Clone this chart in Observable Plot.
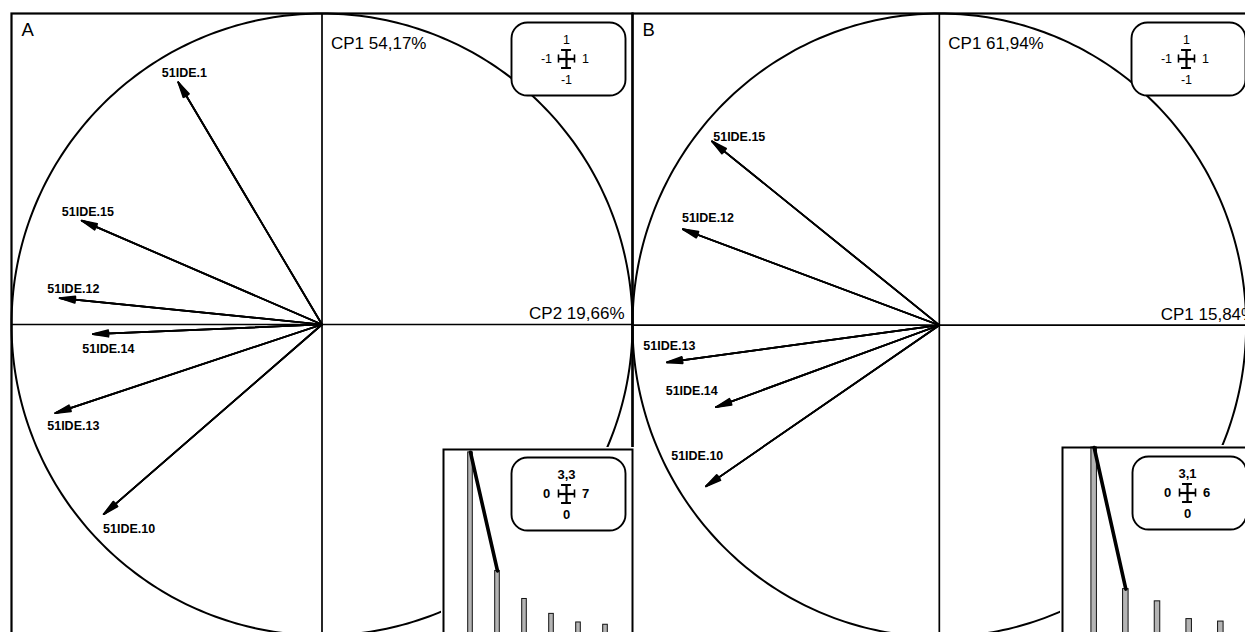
<!DOCTYPE html>
<html><head><meta charset="utf-8">
<script src="https://cdn.jsdelivr.net/npm/d3@7"></script>
<script src="https://cdn.jsdelivr.net/npm/@observablehq/plot@0.6"></script>
<style>
body{margin:0;background:#fff;}
#root{position:relative;width:1245px;height:632px;overflow:hidden;background:#fff;}
#root svg{position:absolute;max-width:none;overflow:visible;}
</style></head><body><div id="root"></div>
<script>
// ---------- data ----------
const panelLetters = ["A", "B"];
const axisTitlesA = ["CP1 54,17%", "CP2 19,66%"];
const axisTitlesB = ["CP1 61,94%", "CP1 15,84%"];

const varsA = ["51IDE.1", "51IDE.15", "51IDE.12", "51IDE.14", "51IDE.13", "51IDE.10"];
const corrXA = [-0.463, -0.774, -0.845, -0.738, -0.859, -0.703];
const corrYA = [0.779, 0.334, 0.085, -0.031, -0.285, -0.610];
const labXA = [-0.443, -0.754, -0.801, -0.688, -0.801, -0.621];
const labYA = [0.808, 0.361, 0.113, -0.079, -0.327, -0.658];

const varsB = ["51IDE.15", "51IDE.12", "51IDE.13", "51IDE.14", "51IDE.10"];
const corrXB = [-0.741, -0.836, -0.888, -0.728, -0.761];
const corrYB = [0.590, 0.308, -0.119, -0.263, -0.517];
const labXB = [-0.652, -0.754, -0.880, -0.807, -0.789];
const labYB = [0.603, 0.343, -0.067, -0.212, -0.420];

const eigA = [3.25, 1.18, 0.69, 0.43, 0.28, 0.24];
const eigB = [3.10, 0.79, 0.59, 0.30, 0.26];

// legend tick labels: [xmin, xmax, ymin, ymax]
const corrLegendLabels = ["-1", "1", "-1", "1"];
const eigLegendA = ["0", "7", "0", "3,3"];
const eigLegendB = ["0", "6", "0", "3,1"];
const eigDomainA = [0, 7, 0, 3.3];
const eigDomainB = [0, 6, 0, 3.1];
const corrDomain = [-1, 1, -1, 1];

// ---------- drawing ----------
const FONT = "'Liberation Sans', Arial, Helvetica, sans-serif";
const root = document.getElementById("root");
function place(el, left, top, bg) {
  el.style.position = "absolute";
  el.style.left = left + "px";
  el.style.top = top + "px";
  el.style.background = bg;
  el.style.fontFamily = FONT;
  el.style.maxWidth = "none";
  root.appendChild(el);
}

const circlePts = d3.range(0, 361).map(a => ({cx: Math.cos(a * Math.PI / 180), cy: Math.sin(a * Math.PI / 180)}));

function panel(o) {
  const arrows = o.vars.map((v, i) => ({name: v, x: o.xs[i], y: o.ys[i], lx: o.lx[i], ly: o.ly[i]}));
  const arrowOpts = a => ({x1: 0, y1: 0, x2: "x", y2: "y", stroke: "#000", strokeWidth: 1.7, headLength: 14, headAngle: a});
  return Plot.plot({
    width: o.w + 4, height: o.h + 4, margin: 2,
    x: {domain: o.xdom, axis: null},
    y: {domain: [-1, 1], axis: null},
    marks: [
      Plot.ruleX([0], {stroke: "#000", strokeWidth: 1.7}),
      Plot.ruleY([0], {stroke: "#000", strokeWidth: 1.7}),
      Plot.line(circlePts, {x: "cx", y: "cy", stroke: "#000", strokeWidth: 2}),
      Plot.arrow(arrows, arrowOpts(24)),
      Plot.arrow(arrows, arrowOpts(16)),
      Plot.arrow(arrows, arrowOpts(8)),
      Plot.text(arrows, {x: "lx", y: "ly", text: "name", fontSize: 12.5, fontWeight: "bold", fill: "#000", fontFamily: FONT}),
      Plot.text([o.titles[0]], {x: 0, y: 1, text: d => d, textAnchor: "start", dx: 9, dy: 30, fontSize: 17, fill: "#000", fontFamily: FONT}),
      Plot.text([o.titles[1]], {x: 1, y: 0, text: d => d, textAnchor: "end", dx: o.dxEnd, dy: -11, fontSize: 17, fill: "#000", fontFamily: FONT}),
      Plot.text([o.letter], {frameAnchor: "top-left", text: d => d, dx: 10, dy: 17, lineAnchor: "middle", textAnchor: "start", fontSize: 18.5, fill: "#000", fontFamily: FONT}),
      Plot.frame({stroke: "#000", strokeWidth: 2.2})
    ]
  });
}

function inset(o) {
  const bars = o.eig.map((v, i) => ({k: i + 1, v}));
  return Plot.plot({
    width: o.size + 4, height: o.size + 4, margin: 2,
    x: {domain: [o.dom[0], o.dom[1]], axis: null},
    y: {domain: [o.dom[2], o.dom[3]], axis: null},
    marks: [
      Plot.rectY(bars, {x1: d => d.k - o.bw, x2: d => d.k + o.bw, y1: 0, y2: "v", fill: "#b4b4b4", stroke: "#111", strokeWidth: 1}),
      Plot.line(bars.slice(0, 2), {x: "k", y: "v", stroke: "#000", strokeWidth: 3.6}),
      Plot.frame({stroke: "#000", strokeWidth: 2})
    ]
  });
}

function legendBox(o) {
  const [x0, x1, y0, y1] = o.dom;
  const xm = (x0 + x1) / 2, ym = (y0 + y1) / 2;
  const hx = (x1 - x0) / 2, hy = (y1 - y0) / 2;
  const W = 114, H = 73, cx = 55, cy = 36.5, ax = 8, ay = 9;
  const t = {fontSize: o.bold ? 13 : 12.5, fontWeight: o.bold ? "bold" : "normal", fill: "#000", fontFamily: FONT, text: d => d};
  return Plot.plot({
    width: W + 4, height: H + 4, margin: 2,
    x: {domain: [x0, x1], range: [2 + cx - ax, 2 + cx + ax], axis: null},
    y: {domain: [y0, y1], range: [2 + cy + ay, 2 + cy - ay], axis: null},
    marks: [
      Plot.frame({stroke: "#000", strokeWidth: 1.9, fill: "#fff", rx: 16, ry: 16}),
      Plot.ruleY([ym], {x1: x0, x2: x1, stroke: "#000", strokeWidth: 2.2}),
      Plot.ruleX([xm], {y1: y0, y2: y1, stroke: "#000", strokeWidth: 2.2}),
      Plot.ruleX([x0, x1], {y1: ym - 0.45 * hy, y2: ym + 0.45 * hy, stroke: "#000", strokeWidth: 1.6}),
      Plot.ruleY([y0, y1], {x1: xm - 0.62 * hx, x2: xm + 0.62 * hx, stroke: "#000", strokeWidth: 2}),
      Plot.text([o.labels[0]], {...t, x: x0, y: ym, dx: -12}),
      Plot.text([o.labels[1]], {...t, x: x1, y: ym, dx: 11}),
      Plot.text([o.labels[2]], {...t, x: xm, y: y0, dy: 12}),
      Plot.text([o.labels[3]], {...t, x: xm, y: y1, dy: -10})
    ]
  });
}

place(panel({w: 621, h: 622, xdom: [-1, 1], vars: varsA, xs: corrXA, ys: corrYA, lx: labXA, ly: labYA,
  letter: panelLetters[0], titles: axisTitlesA, dxEnd: -8}), 8.7, 11.3, "transparent");
place(panel({w: 621, h: 623.4, xdom: [-1, 1.024], vars: varsB, xs: corrXB, ys: corrYB, lx: labXB, ly: labYB,
  letter: panelLetters[1], titles: axisTitlesB, dxEnd: 10}), 629.7, 11.3, "transparent");

place(inset({size: 189, dom: eigDomainA, eig: eigA, bw: 0.085}), 440.7, 447, "#fff");
place(inset({size: 190, dom: eigDomainB, eig: eigB, bw: 0.087}), 1059.7, 445.3, "#fff");

place(legendBox({dom: corrDomain, labels: corrLegendLabels, bold: false}), 508.5, 20, "transparent");
place(legendBox({dom: corrDomain, labels: corrLegendLabels, bold: false}), 1129, 20, "transparent");
place(legendBox({dom: eigDomainA, labels: eigLegendA, bold: true}), 509, 454.5, "transparent");
place(legendBox({dom: eigDomainB, labels: eigLegendB, bold: true}), 1129.7, 454, "transparent");
</script></body></html>
